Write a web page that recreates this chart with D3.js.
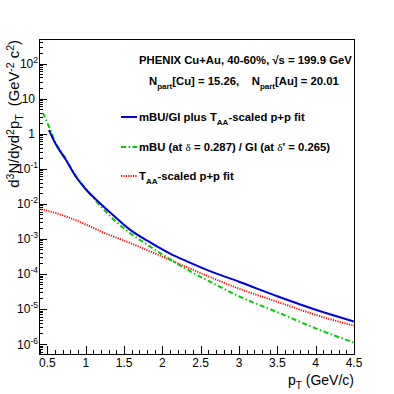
<!DOCTYPE html>
<html>
<head>
<meta charset="utf-8">
<script src="https://cdn.jsdelivr.net/npm/d3@7"></script>
<style>
  body { margin: 0; background: #fff; }
  svg { font-family: "Liberation Sans", Arial, Helvetica, sans-serif; }
  .axis path, .axis line { stroke: #000; shape-rendering: crispEdges; }
  .legend text { font-weight: bold; font-size: 11.3px; }
</style>
</head>
<body>
<div id="chart"></div>
<script>
// Series values (pT in GeV/c, yield in GeV^-2 c^2)
var BLUE_PT = [0.52, 0.6, 0.74, 0.87, 1.0, 1.13, 1.32, 1.58, 1.84, 2.1, 2.36, 2.62, 3.0, 3.5, 4.0, 4.5];
var BLUE_Y = [1.26, 0.54, 0.18, 0.06, 0.026, 0.0135, 5.6e-3, 1.8e-3, 7.9e-4, 3.8e-4, 2.1e-4, 1.2e-4, 6.0e-5, 2.3e-5, 9.5e-6, 4.4e-6];

var GREEN_PT = [0.44, 0.52, 0.6, 0.74, 0.87, 1.0, 1.14, 1.32, 1.58, 1.84, 2.1, 2.36, 2.62, 3.0, 3.5, 4.0, 4.5];
var GREEN_Y = [3.9, 1.6, 0.6, 0.19, 0.063, 0.027, 0.0117, 4.4e-3, 1.45e-3, 6.0e-4, 2.6e-4, 1.2e-4, 6.0e-5, 2.3e-5, 8.1e-6, 2.8e-6, 1.1e-6];

var RED_PT = [0.39, 0.6, 0.8, 1.06, 1.2, 1.58, 2.1, 2.5, 3.0, 3.5, 4.0, 4.5];
var RED_Y = [7.2e-3, 5.5e-3, 3.9e-3, 2.24e-3, 1.62e-3, 7.6e-4, 2.5e-4, 1.05e-4, 3.8e-5, 1.6e-5, 6.8e-6, 3.3e-6];

var X_TICKS = [0.5, 1, 1.5, 2, 2.5, 3, 3.5, 4, 4.5];
var X_TICK_LABELS = ["0.5", "1", "1.5", "2", "2.5", "3", "3.5", "4", "4.5"];
var Y_EXPONENTS = [-6, -5, -4, -3, -2, -1, 0, 1, 2];

var X_DOMAIN = [0.39, 4.5];
var Y_DOMAIN = [5.2e-7, 500];

var width = 394, height = 394;
var margins = { top: 39, right: 40, bottom: 40, left: 39 };
var chartWidth = width - margins.left - margins.right;
var chartHeight = height - margins.top - margins.bottom;

var svg = d3.select("#chart").append("svg")
  .attr("width", width)
  .attr("height", height);

var chart = svg.append("g")
  .attr("transform", "translate(" + margins.left + "," + margins.top + ")");

var xScale = d3.scaleLinear().domain(X_DOMAIN).range([0, chartWidth]);
var yScale = d3.scaleLog().domain(Y_DOMAIN).range([chartHeight, 0]);

// minor tick positions
var xMinor = d3.range(4, 46).map(d => d / 10).filter(d => Math.abs(d * 2 - Math.round(d * 2)) > 1e-6);
var yMinor = [];
for (var e = -7; e <= 2; e++) {
  for (var m = 2; m <= 9; m++) {
    var v = m * Math.pow(10, e);
    if (v >= Y_DOMAIN[0] && v <= Y_DOMAIN[1]) yMinor.push(v);
  }
}
var yMajor = Y_EXPONENTS.map(e => Math.pow(10, e));

// frame
chart.append("rect")
  .attr("width", chartWidth)
  .attr("height", chartHeight)
  .attr("fill", "none")
  .attr("stroke", "#000")
  .attr("shape-rendering", "crispEdges");

// x axis
chart.append("g")
  .attr("class", "axis")
  .attr("transform", "translate(0," + chartHeight + ")")
  .call(d3.axisBottom(xScale).tickValues(X_TICKS).tickSize(-8).tickSizeOuter(0).tickFormat(""));
chart.append("g")
  .attr("class", "axis")
  .attr("transform", "translate(0," + chartHeight + ")")
  .call(d3.axisBottom(xScale).tickValues(xMinor).tickSize(-4).tickSizeOuter(0).tickFormat(""));

chart.append("g")
  .selectAll("text")
  .data(X_TICKS)
  .enter()
  .append("text")
  .attr("x", d => xScale(d))
  .attr("y", chartHeight + 13)
  .attr("text-anchor", "middle")
  .attr("font-size", 12)
  .text((d, i) => X_TICK_LABELS[i]);

// y axis
chart.append("g")
  .attr("class", "axis")
  .call(d3.axisLeft(yScale).tickValues(yMajor).tickSize(-8).tickSizeOuter(0).tickFormat(""));
chart.append("g")
  .attr("class", "axis")
  .call(d3.axisLeft(yScale).tickValues(yMinor).tickSize(-4).tickSizeOuter(0).tickFormat(""));

var yLabels = chart.append("g")
  .selectAll("text")
  .data(Y_EXPONENTS)
  .enter()
  .append("text")
  .attr("x", d => (d === 0 || d === 1) ? -4 : -1)
  .attr("y", d => yScale(Math.pow(10, d)) + 4.5)
  .attr("text-anchor", "end")
  .attr("font-size", 12);
yLabels.each(function(d) {
  var t = d3.select(this);
  if (d === 0) { t.text("1"); return; }
  if (d === 1) { t.text("10"); return; }
  t.append("tspan").text("10");
  t.append("tspan").attr("dy", -5).attr("font-size", 8.5).text(d);
});

// axis titles
var xTitle = svg.append("text")
  .attr("x", margins.left + chartWidth)
  .attr("y", 385)
  .attr("text-anchor", "end")
  .attr("font-size", 14);
xTitle.append("tspan").text("p");
xTitle.append("tspan").attr("dy", 4).attr("font-size", 10).text("T");
xTitle.append("tspan").attr("dy", -4).text(" (GeV/c)");

var yTitle = svg.append("text")
  .attr("transform", "translate(18.5,40) rotate(-90)")
  .attr("text-anchor", "end")
  .attr("font-size", 14.8);
yTitle.append("tspan").text("d");
yTitle.append("tspan").attr("dy", -5).attr("font-size", 10.5).text("3");
yTitle.append("tspan").attr("dy", 5).text("N/dyd");
yTitle.append("tspan").attr("dy", -5).attr("font-size", 10.5).text("2");
yTitle.append("tspan").attr("dy", 5).text("p");
yTitle.append("tspan").attr("dy", 4).attr("font-size", 10.5).text("T");
yTitle.append("tspan").attr("dy", -4).attr("xml:space", "preserve").text("  (GeV");
yTitle.append("tspan").attr("dy", -5).attr("font-size", 10.5).text("-2");
yTitle.append("tspan").attr("dy", 5).text(" c");
yTitle.append("tspan").attr("dy", -5).attr("font-size", 10.5).text("2");
yTitle.append("tspan").attr("dy", 5).text(")");

// curves
var line = d3.line()
  .x(d => xScale(d[0]))
  .y(d => yScale(d[1]))
  .curve(d3.curveMonotoneX);

chart.append("clipPath").attr("id", "plot-clip")
  .append("rect").attr("width", chartWidth).attr("height", chartHeight);

var plot = chart.append("g").attr("clip-path", "url(#plot-clip)");

var SERIES = [
  { pt: RED_PT, y: RED_Y, color: "#ff0000", width: 1.8, dash: "1.2,1.2" },
  { pt: GREEN_PT, y: GREEN_Y, color: "#00cc00", width: 2, dash: "5,2.5,1.5,2.5" },
  { pt: BLUE_PT, y: BLUE_Y, color: "#0000dd", width: 2, dash: null }
];

SERIES.forEach(function(s) {
  plot.append("path")
    .datum(s.pt.map((p, i) => [p, s.y[i]]))
    .attr("d", line)
    .attr("fill", "none")
    .attr("stroke", s.color)
    .attr("stroke-width", s.width)
    .attr("stroke-dasharray", s.dash);
});

// legend / annotations
var legend = svg.append("g").attr("class", "legend");

legend.append("text")
  .attr("x", 139)
  .attr("y", 64)
  .text("PHENIX Cu+Au, 40-60%, \u221As = 199.9 GeV");

var npart = legend.append("text").attr("x", 149).attr("y", 85);
npart.append("tspan").text("N");
npart.append("tspan").attr("dy", 4).attr("font-size", 8).text("part");
npart.append("tspan").attr("dy", -4).attr("xml:space", "preserve").text("[Cu] = 15.26,    N");
npart.append("tspan").attr("dy", 4).attr("font-size", 8).text("part");
npart.append("tspan").attr("dy", -4).text("[Au] = 20.01");

var entries = [
  { y: 117, color: "#0000dd", width: 2, dash: null },
  { y: 147, color: "#00cc00", width: 2, dash: "5,2.5,1.5,2.5" },
  { y: 176, color: "#ff0000", width: 1.8, dash: "1.2,1.2" }
];
entries.forEach(function(d) {
  legend.append("line")
    .attr("x1", 121).attr("x2", 137)
    .attr("y1", d.y).attr("y2", d.y)
    .attr("stroke", d.color)
    .attr("stroke-width", d.width)
    .attr("stroke-dasharray", d.dash);
});

var t1 = legend.append("text").attr("x", 139).attr("y", 121);
t1.append("tspan").text("mBU/GI plus T");
t1.append("tspan").attr("dy", 4).attr("font-size", 8).text("AA");
t1.append("tspan").attr("dy", -4).text("-scaled p+p fit");

var t2 = legend.append("text").attr("x", 139).attr("y", 151);
t2.append("tspan").text("mBU (at ");
t2.append("tspan").attr("font-family", "Liberation Serif, serif").attr("font-weight", "normal").text("\u03B4");
t2.append("tspan").text(" = 0.287) / GI (at ");
t2.append("tspan").attr("font-family", "Liberation Serif, serif").attr("font-weight", "normal").text("\u03B4");
t2.append("tspan").text("' = 0.265)");

var t3 = legend.append("text").attr("x", 139).attr("y", 180);
t3.append("tspan").text("T");
t3.append("tspan").attr("dy", 4).attr("font-size", 8).text("AA");
t3.append("tspan").attr("dy", -4).text("-scaled p+p fit");
</script>
</body>
</html>
